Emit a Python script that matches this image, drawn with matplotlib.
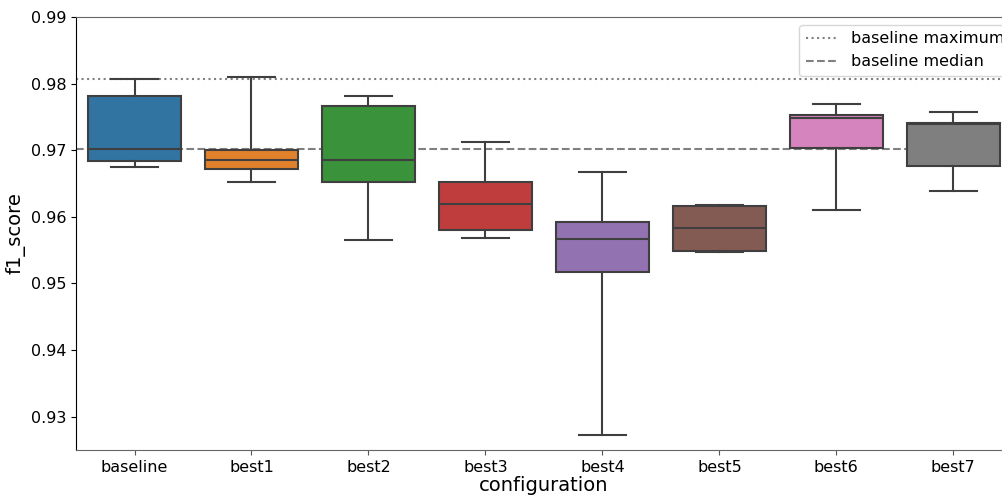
import matplotlib
matplotlib.use("Agg")
import matplotlib.pyplot as plt

# summary stats
configs = ["baseline", "best1", "best2", "best3", "best4", "best5", "best6", "best7"]
whislo = [0.9675, 0.9652, 0.9566, 0.9569, 0.9273, 0.9547, 0.9610, 0.9639]
q1 = [0.9684, 0.9672, 0.9652, 0.9581, 0.9517, 0.9549, 0.9704, 0.9677]
med = [0.9702, 0.9685, 0.9685, 0.9620, 0.9567, 0.9583, 0.9749, 0.9739]
q3 = [0.9781, 0.9701, 0.9767, 0.9653, 0.9593, 0.9617, 0.9753, 0.9741]
whishi = [0.9807, 0.9810, 0.9782, 0.9713, 0.9667, 0.9618, 0.9769, 0.9757]
colors = ["#3274a1", "#e1812c", "#3a923a", "#c03d3e", "#9372b2", "#845b53", "#d684bd", "#7f7f7f"]

baseline_max = 0.9807
baseline_median = 0.9702

fig = plt.figure(figsize=(10.03, 4.96), dpi=100)
ax = fig.add_axes([0.0758, 0.0927, 0.933, 0.873])

stats = []
for i, c in enumerate(configs):
    stats.append({"label": c, "whislo": whislo[i], "q1": q1[i], "med": med[i],
                  "q3": q3[i], "whishi": whishi[i], "fliers": []})

linec = "#3f3f3f"
bp = ax.bxp(stats, positions=range(len(configs)), widths=0.8, patch_artist=True,
            showfliers=False,
            boxprops=dict(edgecolor=linec, linewidth=1.5),
            medianprops=dict(color=linec, linewidth=1.5),
            whiskerprops=dict(color=linec, linewidth=1.5),
            capprops=dict(color=linec, linewidth=1.5),
            capwidths=0.4)
for patch, col in zip(bp["boxes"], colors):
    patch.set_facecolor(col)

ax.axhline(baseline_max, color="gray", linestyle=":", linewidth=1.5, label="baseline maximum", zorder=0)
ax.axhline(baseline_median, color="gray", linestyle="--", linewidth=1.5, label="baseline median", zorder=0)

ax.set_xlim(-0.5, len(configs) - 0.5)
ax.set_ylim(0.925, 0.99)
ax.set_yticks([0.93, 0.94, 0.95, 0.96, 0.97, 0.98, 0.99])
ax.set_xticks(range(len(configs)))
ax.set_xticklabels(configs)
ax.tick_params(labelsize=11.5)
ax.tick_params(axis="x", colors="#555555", labelcolor="black")
ax.spines["top"].set_color("#666666")
ax.spines["bottom"].set_color("#666666")
ax.spines["right"].set_visible(False)
ax.set_xlabel("configuration", fontsize=14, labelpad=1)
ax.set_ylabel("f1_score", fontsize=14)
ax.legend(loc="upper right", fontsize=11.5, bbox_to_anchor=(1.007, 1))

fig.savefig("out.png", dpi=100)
